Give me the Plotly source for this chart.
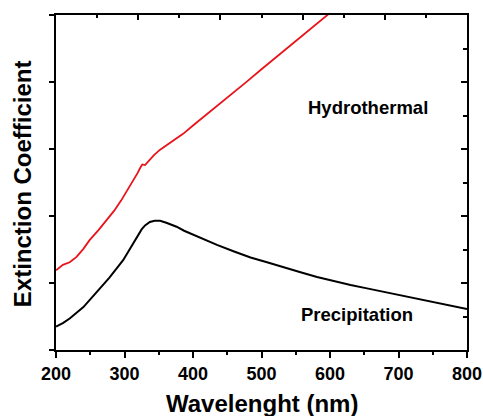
import plotly.graph_objects as go

# Hydrothermal (red) curve: wavelength (nm), extinction (arb.)
hydro_wl = [200, 210, 220, 230, 240, 249, 262, 274, 285, 295, 304, 313, 319, 323, 326, 330, 336, 343, 352, 362, 374, 386, 400, 411, 430, 460, 479, 500, 528, 560, 596, 620]
hydro_ext = [1.19, 1.27, 1.31, 1.39, 1.51, 1.64, 1.79, 1.94, 2.08, 2.23, 2.38, 2.53, 2.64, 2.72, 2.77, 2.76, 2.83, 2.91, 2.99, 3.06, 3.15, 3.23, 3.35, 3.44, 3.60, 3.85, 4.01, 4.19, 4.43, 4.70, 5.00, 5.20]

# Precipitation (black) curve
prec_wl = [200, 210, 220, 230, 240, 259, 278, 298, 308, 318, 325, 330, 337, 344, 352, 361, 376, 387, 411, 435, 460, 484, 508, 533, 557, 581, 605, 630, 654, 678, 703, 727, 751, 776, 800]
prec_ext = [0.35, 0.40, 0.47, 0.55, 0.64, 0.86, 1.08, 1.34, 1.51, 1.69, 1.80, 1.86, 1.91, 1.93, 1.93, 1.90, 1.84, 1.78, 1.67, 1.57, 1.47, 1.38, 1.31, 1.23, 1.16, 1.09, 1.03, 0.97, 0.92, 0.87, 0.81, 0.76, 0.71, 0.66, 0.61]

x_ticks = [200, 300, 400, 500, 600, 700, 800]
series_labels = ["Hydrothermal", "Precipitation"]

FONT = "Liberation Sans, Arial, sans-serif"

fig = go.Figure()
fig.add_trace(go.Scatter(x=hydro_wl, y=hydro_ext, mode="lines",
                         line=dict(color="#e8141b", width=1.8), name=series_labels[0]))
fig.add_trace(go.Scatter(x=prec_wl, y=prec_ext, mode="lines",
                         line=dict(color="black", width=2), name=series_labels[1]))
# empty trace to anchor mirror axes
fig.add_trace(go.Scatter(x=[], y=[], xaxis="x2", yaxis="y2", showlegend=False))

fig.update_layout(
    width=483, height=416,
    margin=dict(l=56, r=16, t=15, b=66),
    paper_bgcolor="white", plot_bgcolor="white",
    showlegend=False,
    font=dict(family=FONT, color="black"),
    xaxis=dict(range=[200, 800], tickvals=x_ticks, ticks="outside", ticklen=6, tickwidth=2,
               tickcolor="black", showline=True, linewidth=2, linecolor="black",
               showgrid=False, zeroline=False, automargin=False,
               tickfont=dict(family=FONT, size=18, weight="bold", color="black"),
               minor=dict(dtick=50, tick0=200, ticks="outside", ticklen=3, tickwidth=2, tickcolor="black", showgrid=False)),
    xaxis2=dict(range=[200, 800], overlaying="x", side="top", anchor="y", tick0=320, dtick=120,
                ticks="inside", ticklen=5, tickwidth=2, tickcolor="black",
                showline=True, linewidth=2, linecolor="black", showticklabels=False,
                showgrid=False, zeroline=False, automargin=False,
                minor=dict(dtick=60, tick0=200, ticks="inside", ticklen=3, tickwidth=2, tickcolor="black", showgrid=False)),
    yaxis=dict(range=[0, 5], dtick=1, ticks="outside", ticklen=5, tickwidth=2, tickcolor="black",
               showline=True, linewidth=2, linecolor="black", showticklabels=False,
               showgrid=False, zeroline=False, automargin=False),
    yaxis2=dict(range=[0, 5], overlaying="y", side="right", anchor="x", dtick=1,
                ticks="inside", ticklen=6, tickwidth=2, tickcolor="black",
                showline=True, linewidth=2, linecolor="black", showticklabels=False,
                showgrid=False, zeroline=False, automargin=False,
                minor=dict(dtick=0.5, tick0=0, ticks="inside", ticklen=4, tickwidth=2, tickcolor="black", showgrid=False)),
    annotations=[
        dict(x=655, y=3.62, xref="x", yref="y", text=series_labels[0], showarrow=False,
             font=dict(family=FONT, size=18.5, weight="bold", color="black")),
        dict(x=640, y=0.53, xref="x", yref="y", text=series_labels[1], showarrow=False,
             font=dict(family=FONT, size=18.5, weight="bold", color="black")),
        dict(x=0.502, y=0, xref="paper", yref="paper", yshift=-53, yanchor="middle",
             text="Wavelenght (nm)", showarrow=False,
             font=dict(family=FONT, size=24, weight="bold", color="black")),
        dict(x=0, y=0.495, xref="paper", yref="paper", xshift=-34, xanchor="center", yanchor="middle",
             text="Extinction Coefficient", textangle=-90, showarrow=False,
             font=dict(family=FONT, size=24, weight="bold", color="black")),
    ],
)

fig.write_html("out.html", config={"displayModeBar": False},
               post_script="document.body.style.margin='0';document.body.style.overflow='hidden';")
